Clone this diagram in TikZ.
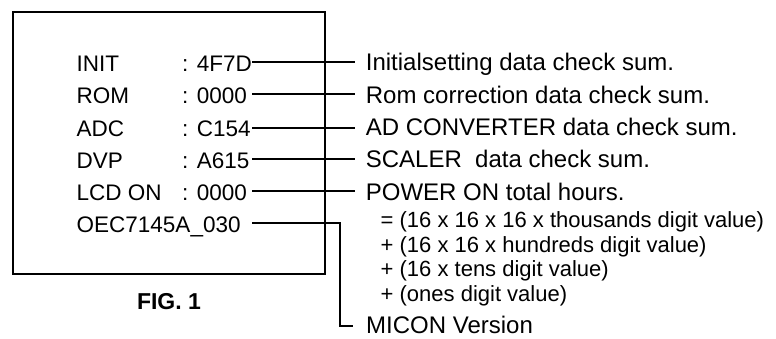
\documentclass[tikz,border=0pt]{standalone}
\usepackage{fontspec}
\setmainfont{Liberation Sans}
\begin{document}
\begin{tikzpicture}[x=1pt,y=-1pt,
  lab/.style={anchor=base west,inner sep=0pt,font=\fontsize{22.5}{27}\selectfont},
  rlab/.style={anchor=base west,inner sep=0pt,font=\fontsize{24}{28}\selectfont},
  frm/.style={anchor=base west,inner sep=0pt,font=\fontsize{22}{26}\selectfont},
  conn/.style={line width=2pt},
  frame/.style={draw,line width=2.5pt}]
\useasboundingbox (0,0) rectangle (776,338);
\node[frame,anchor=north west,minimum width=312pt,minimum height=262pt,inner sep=0pt] (box) at (11.5,10.5) {};
% left labels
\node[lab] (l1) at (76.5,71) {INIT};
\node[lab] (l2) at (76.5,103.5) {ROM};
\node[lab] (l3) at (76.5,136) {ADC};
\node[lab] (l4) at (76.5,168) {DVP};
\node[lab] (l5) at (76.5,200.3) {LCD ON};
\node[lab] (l6) at (76.5,232.5) {OEC7145A\_030};
% values
\node[lab] (v1) at (182,71) {: 4F7D};
\node[lab] (v2) at (182,103.5) {: 0000};
\node[lab] (v3) at (182,136) {: C154};
\node[lab] (v4) at (182,168) {: A615};
\node[lab] (v5) at (182,200.3) {: 0000};
% right texts
\node[rlab] (r1) at (365.7,70.1) {Initialsetting data check sum.};
\node[rlab] (r2) at (365.7,103.1) {Rom correction data check sum.};
\node[rlab] (r3) at (365.7,135.9) {AD CONVERTER data check sum.};
\node[rlab] (r4) at (365.7,167.9) {SCALER~ data check sum.};
\node[rlab] (r5) at (365.7,200.1) {POWER ON total hours.};
\node[frm] (f1) at (380.5,227.9) {= (16 x 16 x 16 x thousands digit value)};
\node[frm] (f2) at (380.5,252.4) {+ (16 x 16 x hundreds digit value)};
\node[frm] (f3) at (380.5,276.9) {+ (16 x tens digit value)};
\node[frm] (f4) at (380.5,301.4) {+ (ones digit value)};
\node[rlab] (r6) at (366,333.5) {MICON Version};
% caption
\node[inner sep=0pt,font=\bfseries\fontsize{23}{27}\selectfont] (fig) at (169,301.7) {FIG. 1};
% connectors
\coordinate (a1) at (252,62.3); \coordinate (b1) at (355,62.3);
\coordinate (a2) at (252,94);   \coordinate (b2) at (355,94);
\coordinate (a3) at (252,127.7); \coordinate (b3) at (355,127.7);
\coordinate (a4) at (252,159.3); \coordinate (b4) at (355,159.3);
\coordinate (a5) at (252,191);  \coordinate (b5) at (355,191);
\coordinate (a6) at (252,223.3); \coordinate (k6) at (340,223.3); \coordinate (b6) at (353,325.5);
\draw[conn] (a1) -- (b1);
\draw[conn] (a2) -- (b2);
\draw[conn] (a3) -- (b3);
\draw[conn] (a4) -- (b4);
\draw[conn] (a5) -- (b5);
\draw[conn] (a6) -- (k6) |- (b6);
\end{tikzpicture}
\end{document}
